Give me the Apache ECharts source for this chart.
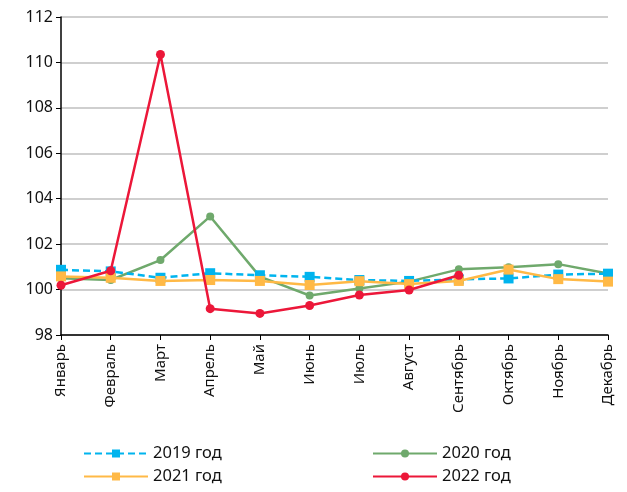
<!DOCTYPE html>
<html>
<head>
<meta charset="utf-8">
<script src="https://cdn.jsdelivr.net/npm/echarts@6/dist/echarts.min.js"></script>
<style>
  html, body { margin: 0; padding: 0; background: #fff; }
  #chart { width: 627px; height: 492px; }
</style>
</head>
<body>
<div id="chart"></div>
<script>
const months = ["Январь", "Февраль", "Март", "Апрель", "Май", "Июнь", "Июль", "Август", "Сентябрь", "Октябрь", "Ноябрь", "Декабрь"];
const y2019 = [100.87, 100.8, 100.52, 100.72, 100.63, 100.56, 100.42, 100.38, 100.45, 100.49, 100.66, 100.7];
const y2020 = [100.5, 100.42, 101.3, 103.22, 100.57, 99.74, 100.05, 100.35, 100.89, 100.98, 101.12, 100.71];
const y2021 = [100.58, 100.52, 100.38, 100.42, 100.38, 100.2, 100.37, 100.24, 100.38, 100.88, 100.46, 100.35];
const y2022 = [100.19, 100.83, 110.35, 99.16, 98.95, 99.3, 99.76, 99.98, 100.63, null, null, null];

const font = "Noto Sans";
const chart = echarts.init(document.getElementById("chart"));

const legendBase = {
  orient: "vertical",
  top: 440,
  itemWidth: 64,
  itemHeight: 10,
  itemGap: 6,
  textStyle: { fontFamily: font, fontSize: 16.5, color: "#111" },
};

chart.setOption({
  animation: false,
  grid: { left: 61, right: 19, top: 17, bottom: 157 },
  legend: [
    Object.assign({ left: 78, data: ["2019 год", "2021 год"] }, legendBase),
    Object.assign({ left: 367, data: ["2020 год", "2022 год"] }, legendBase),
  ],
  xAxis: {
    type: "category",
    data: months,
    boundaryGap: false,
    axisLine: { lineStyle: { color: "#000", width: 1.5 } },
    axisTick: { alignWithLabel: true, length: 5, lineStyle: { color: "#000" } },
    axisLabel: { rotate: 90, interval: 0, fontFamily: font, fontSize: 15, color: "#111", margin: 9 },
  },
  yAxis: {
    type: "value",
    min: 98,
    max: 112,
    interval: 2,
    axisLine: { show: true, lineStyle: { color: "#000", width: 1.5 } },
    axisTick: { show: true, length: 5, lineStyle: { color: "#000" } },
    axisLabel: { fontFamily: font, fontSize: 16, color: "#111", margin: 8 },
    splitLine: { lineStyle: { color: "#bfbfbf", width: 1.5 } },
  },
  series: [
    {
      name: "2019 год",
      type: "line",
      data: y2019,
      symbol: "rect",
      symbolSize: 10,
      itemStyle: { color: "#00b4ee" },
      lineStyle: { color: "#00b4ee", width: 2.5, type: [7, 4] },
      z: 3,
    },
    {
      name: "2020 год",
      type: "line",
      data: y2020,
      symbol: "circle",
      symbolSize: 8,
      itemStyle: { color: "#6fa96c" },
      lineStyle: { color: "#6fa96c", width: 2.5 },
      z: 2,
    },
    {
      name: "2021 год",
      type: "line",
      data: y2021,
      symbol: "rect",
      symbolSize: 10,
      itemStyle: { color: "#ffb946" },
      lineStyle: { color: "#ffb946", width: 2.5 },
      z: 4,
    },
    {
      name: "2022 год",
      type: "line",
      data: y2022,
      symbol: "circle",
      symbolSize: 9,
      itemStyle: { color: "#ec1739" },
      lineStyle: { color: "#ec1739", width: 2.5 },
      z: 5,
    },
  ],
});

window.addEventListener("resize", () => {
  chart.resize();
});
</script>
</body>
</html>
